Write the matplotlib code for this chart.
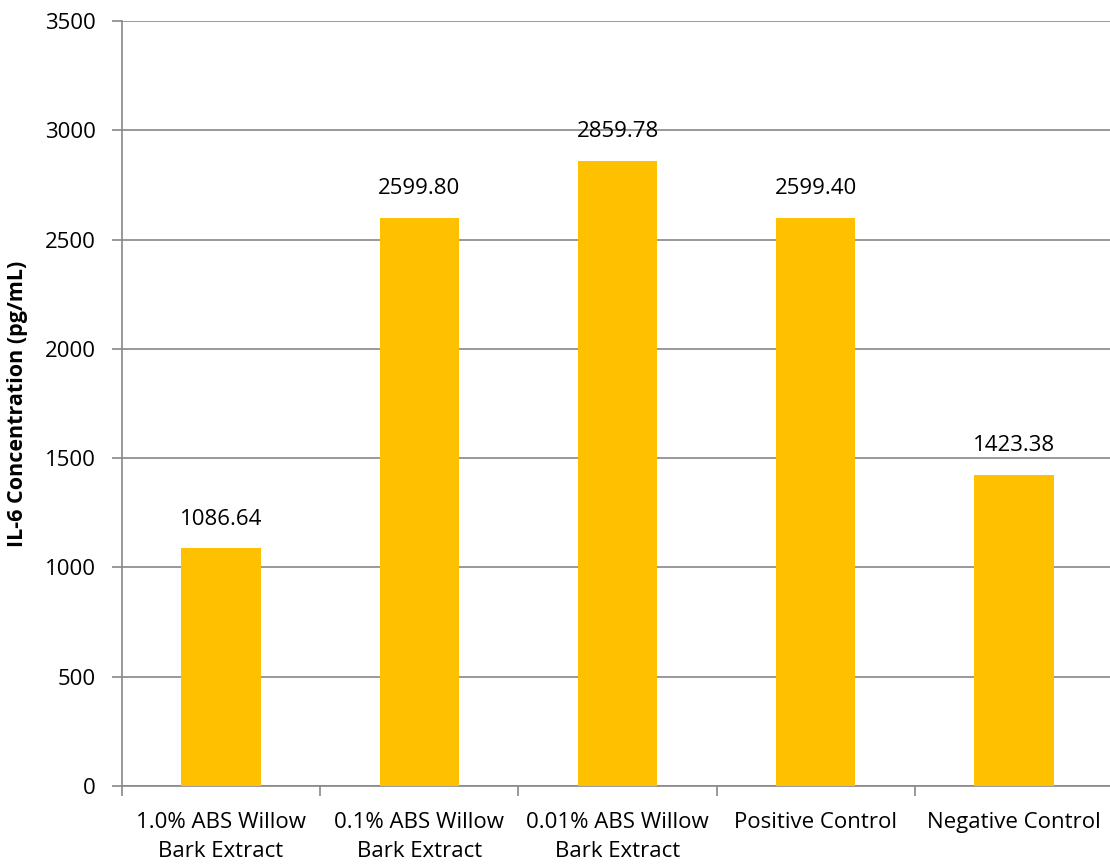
import matplotlib
matplotlib.use('Agg')
import numpy as np
import matplotlib.pyplot as plt

plt.rcParams['font.family'] = ['Open Sans', 'DejaVu Sans']

# data
categories = ['1.0% ABS Willow\nBark Extract', '0.1% ABS Willow\nBark Extract',
              '0.01% ABS Willow\nBark Extract', 'Positive Control', 'Negative Control']
il6_values = [1086.64, 2599.80, 2859.78, 2599.40, 1423.38]
y_ticks = [0, 500, 1000, 1500, 2000, 2500, 3000, 3500]

fig = plt.figure(figsize=(11.1, 8.64), dpi=100)
ax = fig.add_axes([122 / 1110, 78 / 864, 991 / 1110, 765 / 864])

x = np.arange(len(categories))
ax.bar(x, il6_values, width=0.4, color='#FFC000', zorder=3)

# value labels above bars
for xi, v in zip(x, il6_values):
    ax.annotate('%.2f' % v, (xi, v), xytext=(0, 21), textcoords='offset points',
                ha='center', va='center', fontsize=16, color='black')

ax.set_xlim(-0.5, len(categories) - 0.5)
ax.set_ylim(0, 3500)
ax.set_yticks(y_ticks)
ax.set_xticks(np.arange(len(categories) + 1) - 0.5, minor=True)
ax.set_xticks(x)
ax.set_xticklabels(categories, fontsize=16, linespacing=1.5)
ax.tick_params(axis='x', which='major', length=0, pad=19)
ax.tick_params(axis='x', which='minor', length=7, width=1.2, color='#888888')
ax.tick_params(axis='y', length=7, width=1.2, color='#888888', labelsize=16, pad=12)

ax.yaxis.grid(True, color='#888888', linewidth=1.2, zorder=0)
for side in ['top', 'right']:
    ax.spines[side].set_visible(False)
for side in ['left', 'bottom']:
    ax.spines[side].set_color('#888888')
    ax.spines[side].set_linewidth(1.2)

ax.set_ylabel('IL-6 Concentration (pg/mL)', fontsize=15.5, fontweight='bold', labelpad=12)

fig.savefig('out.png', dpi=100)
